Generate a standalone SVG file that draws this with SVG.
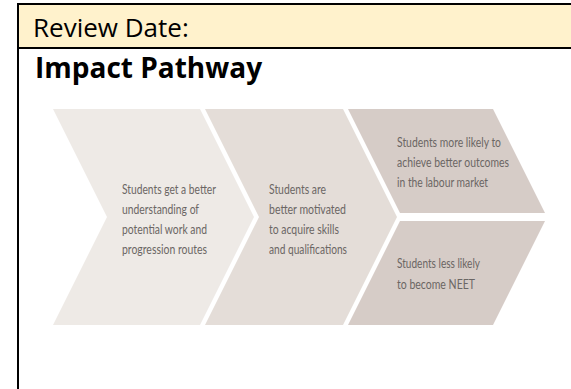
<svg xmlns="http://www.w3.org/2000/svg" width="571" height="389" viewBox="0 0 571 389">
  <style>
    .hdr { font-family: "Open Sans", "Noto Sans", "Liberation Sans", sans-serif; fill: #000000; }
    .lbl { font-family: Lato, "Liberation Sans", sans-serif; font-size: 14px; fill: #6b6664; }
    .c1 { fill: #EEEAE6; }
    .c2 { fill: #E4DDD8; }
    .c3 { fill: #D6CCC7; }
  </style>
  <rect x="0" y="0" width="571" height="389" fill="#FFFFFF"/>
  <g id="header">
    <rect x="18" y="4" width="553" height="44" fill="#FFF2CC"/>
    <rect x="17" y="3" width="554" height="2" fill="#000000"/>
    <rect x="17" y="47" width="554" height="2" fill="#000000"/>
    <rect x="17" y="3" width="2" height="386" fill="#000000"/>
    <text class="hdr" x="33" y="37" font-size="26">Review Date:</text>
    <text class="hdr" x="35" y="78" font-size="28" font-weight="bold">Impact Pathway</text>
  </g>
  <g id="connectors"></g>
  <g id="step1">
    <path class="c1" d="M53,109 L200,109 L254,217 L200,325 L53,325 L107,217 Z"/>
    <text class="lbl" x="122" y="193.5" textLength="94" lengthAdjust="spacingAndGlyphs">Students get a better</text>
    <text class="lbl" x="122" y="213.5" textLength="77" lengthAdjust="spacingAndGlyphs">understanding of</text>
    <text class="lbl" x="122" y="233.5" textLength="85" lengthAdjust="spacingAndGlyphs">potential work and</text>
    <text class="lbl" x="122" y="253.5" textLength="85" lengthAdjust="spacingAndGlyphs">progression routes</text>
  </g>
  <g id="step2">
    <path class="c2" d="M205,109 L343,109 L397,217 L343,325 L205,325 L259,217 Z"/>
    <text class="lbl" x="269" y="193.5" textLength="57" lengthAdjust="spacingAndGlyphs">Students are</text>
    <text class="lbl" x="269" y="213.5" textLength="77" lengthAdjust="spacingAndGlyphs">better motivated</text>
    <text class="lbl" x="269" y="233.5" textLength="70" lengthAdjust="spacingAndGlyphs">to acquire skills</text>
    <text class="lbl" x="269" y="253.5" textLength="78" lengthAdjust="spacingAndGlyphs">and qualifications</text>
  </g>
  <g id="outcome-labour">
    <path class="c3" d="M348,109 L493,109 L545,213 L400,213 Z"/>
    <text class="lbl" x="397" y="146.5" textLength="104" lengthAdjust="spacingAndGlyphs">Students more likely to</text>
    <text class="lbl" x="397" y="167" textLength="112" lengthAdjust="spacingAndGlyphs">achieve better outcomes</text>
    <text class="lbl" x="397" y="187" textLength="91" lengthAdjust="spacingAndGlyphs">in the labour market</text>
  </g>
  <g id="outcome-neet">
    <path class="c3" d="M400,221 L545,221 L493,325 L348,325 Z"/>
    <text class="lbl" x="397" y="268" textLength="83" lengthAdjust="spacingAndGlyphs">Students less likely</text>
    <text class="lbl" x="397" y="289" textLength="78" lengthAdjust="spacingAndGlyphs">to become NEET</text>
  </g>
</svg>
